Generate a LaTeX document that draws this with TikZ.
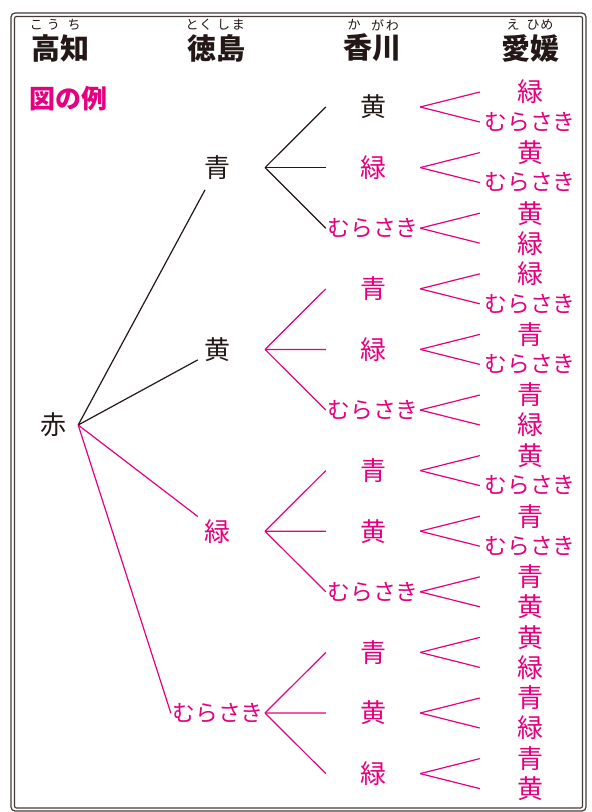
\documentclass[tikz,border=0pt]{standalone}
\usepackage{fontspec}
\newfontfamily\jp{Noto Sans CJK JP}
\definecolor{mag}{HTML}{E4007F}
\definecolor{ink}{HTML}{231815}
\newcommand\mrs{{\fontsize{22.8}{22.8}\selectfont むらさき}}
\begin{document}
\begin{tikzpicture}[x=1pt,y=-1pt,
  frame/.style={draw=ink!85,line width=1.2pt},
  tt/.style={font=\jp\fontsize{26}{26}\selectfont,inner sep=0pt,text=mag},
  l2/.style={tt,minimum width=38pt,minimum height=44pt},
  l3/.style={tt,minimum width=94pt},
  l4/.style={tt,minimum width=100pt},
  hd/.style={font=\jp\bfseries\fontsize{29}{29}\selectfont,inner sep=0pt,text=ink},
  rb/.style={font=\jp\fontsize{13}{13}\selectfont,inner sep=0pt,text=ink},
  kline/.style={draw=ink,line width=1.2pt},
  mline/.style={draw=mag,line width=1.2pt}]
\useasboundingbox (0,0) rectangle (592,812);
\fill[white] (0,0) rectangle (592,812);
% frame
\draw[frame,rounded corners=4pt] (11,13) rectangle (586,811);
\draw[frame,rounded corners=2pt] (14.5,16.5) rectangle (582.5,808);
% headers
\node[hd] (hKochi) at (60,48) {高知};
\node[hd] (hTokushima) at (216,48) {徳島};
\node[hd] (hKagawa) at (372,48) {香川};
\node[hd] (hEhime) at (530,48) {愛媛};
\node[rb] (rKo) at (45,25) {こ\hspace{4pt}う};
\node[rb] (rChi) at (74,25) {ち};
\node[rb] (rToku) at (199,25) {と\hspace{1pt}く};
\node[rb] (rShima) at (231,25) {し\hspace{2pt}ま};
\node[rb] (rKa) at (354,25) {か};
\node[rb] (rGawa) at (385,25) {が\hspace{2pt}わ};
\node[rb] (rE) at (513,25) {え};
\node[rb] (rHime) at (540,25) {ひ\hspace{1pt}め};
\node[font=\jp\bfseries\fontsize{26}{26}\selectfont,inner sep=0pt,text=mag] (rei) at (69,99) {図の例};
% root
\node[tt,text=ink,minimum width=50pt] (aka) at (53,425) {赤};
% level 2
\node[l2,text=ink] (ao) at (217,167.6) {青};
\node[l2,text=ink] (ki) at (217,349.4) {黄};
\node[l2] (midori) at (217,531.2) {緑};
\node[tt,minimum width=94pt] (mura) at (218,713) {\mrs};
\coordinate (fAo) at (265,167.6);
\coordinate (fKi) at (265,349.4);
\coordinate (fMidori) at (265,531.2);
\coordinate (fMura) at (265,713);
\draw[kline] (aka.east) -- (ao);
\draw[kline] (aka.east) -- (ki);
\draw[mline] (aka.east) -- (midori);
\draw[mline] (aka.east) -- (mura.west);
% level 3 and 4
\foreach \i/\lab/\col/\ua/\ub in {0/黄/ink/緑/\mrs, 1/緑/mag/黄/\mrs, 2/\mrs/mag/黄/緑,
  3/青/mag/緑/\mrs, 4/緑/mag/青/\mrs, 5/\mrs/mag/青/緑,
  6/青/mag/黄/\mrs, 7/黄/mag/青/\mrs, 8/\mrs/mag/青/黄,
  9/青/mag/黄/緑, 10/黄/mag/青/緑, 11/緑/mag/青/黄} {
  \pgfmathsetmacro\yy{107+60.6*\i}
  \node[l3,text=\col] (n\i) at (373,\yy) {\lab};
  \node[l4] (n\i a) at (530,\yy-15) {\ua};
  \node[l4] (n\i b) at (530,\yy+15) {\ub};
  \draw[mline] (n\i.east) -- (n\i a.west);
  \draw[mline] (n\i.east) -- (n\i b.west);
}
\draw[kline] (fAo) -- (n0.west);
\draw[kline] (fAo) -- (n1.west);
\draw[kline] (fAo) -- (n2.west);
\draw[mline] (fKi) -- (n3.west);
\draw[mline] (fKi) -- (n4.west);
\draw[mline] (fKi) -- (n5.west);
\draw[mline] (fMidori) -- (n6.west);
\draw[mline] (fMidori) -- (n7.west);
\draw[mline] (fMidori) -- (n8.west);
\draw[mline] (fMura) -- (n9.west);
\draw[mline] (fMura) -- (n10.west);
\draw[mline] (fMura) -- (n11.west);
\end{tikzpicture}
\end{document}
